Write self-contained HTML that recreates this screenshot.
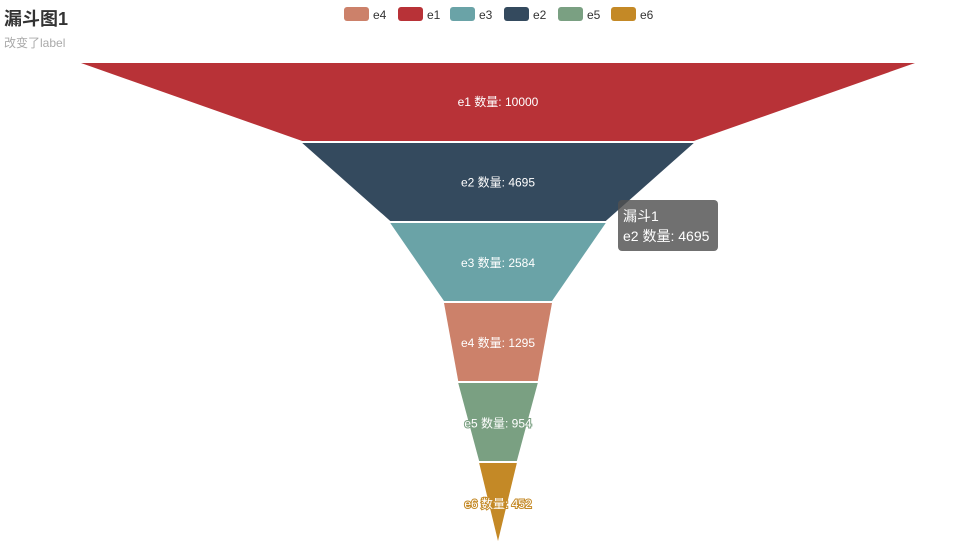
<!DOCTYPE html>
<html><head><meta charset="utf-8"><style>
body{margin:0;width:954px;height:547px;background:#fff;font-family:"Liberation Sans","Noto Sans CJK SC",sans-serif;overflow:hidden;position:relative}
#title{position:absolute;left:4px;top:5px;font-size:18px;font-weight:bold;color:#333}
#sub{position:absolute;left:4px;top:34px;font-size:12px;color:#aaa}
#tip{position:absolute;left:618px;top:200px;width:100px;height:51px;box-sizing:border-box;padding:6px 5px;background:rgba(80,80,80,0.82);border-radius:4px;color:#fff;font-size:14px;line-height:20px}
</style></head><body>
<div id="title">漏斗图1</div>
<div id="sub">改变了label</div>
<svg id="chart" width="954" height="547" style="position:absolute;left:0;top:0"></svg>
<div id="tip">漏斗1<br>e2 数量: 4695</div>
<script>
const categories=["e1","e2","e3","e4","e5","e6"];
const values=[10000,4695,2584,1295,954,452];
const legendOrder=["e4","e1","e3","e2","e5","e6"];
const colors={e1:"#b83237",e2:"#344a5e",e3:"#6aa3a7",e4:"#cc816a",e5:"#7aa082",e6:"#c48926"};
const svg=document.getElementById('chart');
const NS="http://www.w3.org/2000/svg";
const cx=498,maxW=834,top0=63,bottom=541,gap=2;
const maxV=Math.max(...values);
const n=values.length;
const segH=(bottom-top0-gap*(n-1))/n;
function w(v){return v/maxV*maxW;}
values.forEach((v,i)=>{
  const y0=top0+i*(segH+gap),y1=y0+segH;
  const w0=w(v),w1=i<n-1?w(values[i+1]):0;
  const p=document.createElementNS(NS,'polygon');
  p.setAttribute('points',`${cx-w0/2},${y0} ${cx+w0/2},${y0} ${cx+w1/2},${y1} ${cx-w1/2},${y1}`);
  p.setAttribute('fill',colors[categories[i]]);
  
  
  svg.appendChild(p);
  const t=document.createElementNS(NS,'text');
  t.setAttribute('x',cx);t.setAttribute('y',(y0+y1)/2+4+i*0.4);
  t.setAttribute('text-anchor','middle');t.setAttribute('font-size','12');
  t.setAttribute('fill','#fff');
  if(i>=4){t.setAttribute('stroke',colors[categories[i]]);t.setAttribute('stroke-width','2');t.setAttribute('paint-order','stroke');}
  t.textContent=categories[i]+' 数量: '+v;
  
  
  svg.appendChild(t);
});
const lx=[344,398,450,504,558,611];
legendOrder.forEach((c,i)=>{
  const g=document.createElementNS(NS,'g');
  
  
  const r=document.createElementNS(NS,'rect');
  r.setAttribute('x',lx[i]);r.setAttribute('y',7);r.setAttribute('width',25);r.setAttribute('height',14);r.setAttribute('rx',3);
  r.setAttribute('fill',colors[c]);g.appendChild(r);
  const t=document.createElementNS(NS,'text');
  t.setAttribute('x',lx[i]+29);t.setAttribute('y',19);t.setAttribute('font-size','12');t.setAttribute('fill','#333');
  t.textContent=c;g.appendChild(t);
  svg.appendChild(g);
});
</script>
</body></html>
